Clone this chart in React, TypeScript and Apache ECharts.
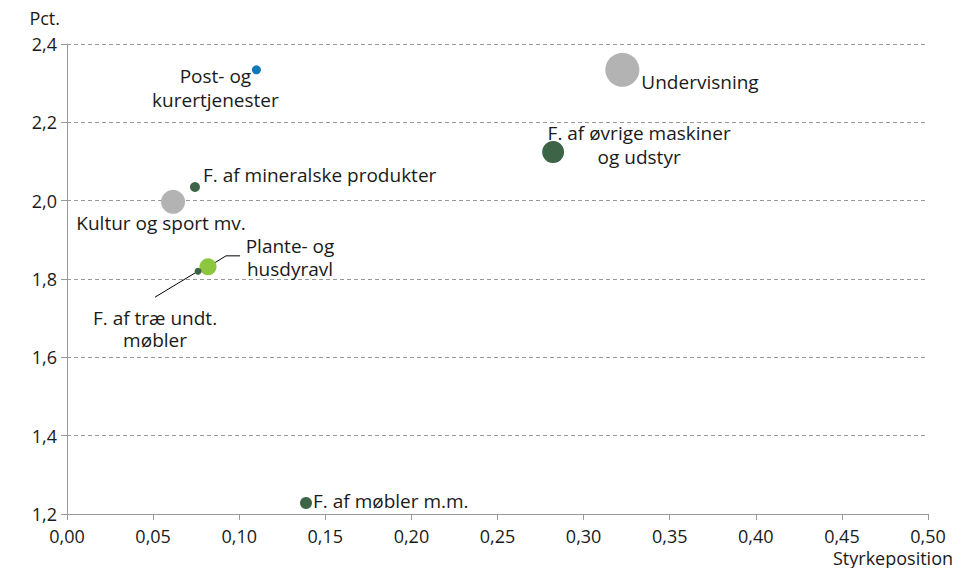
import React, { useEffect, useRef } from "react";
import * as echarts from "echarts";

const names = [
  "Post- og\nkurertjenester",
  "Undervisning",
  "F. af øvrige maskiner\nog udstyr",
  "F. af mineralske produkter",
  "Kultur og sport mv.",
  "Plante- og\nhusdyravl",
  "F. af træ undt.\nmøbler",
  "F. af møbler m.m.",
];
const xValues = [0.11, 0.3225, 0.2823, 0.0743, 0.0616, 0.0819, 0.0761, 0.1388];
const yValues = [2.334, 2.334, 2.124, 2.035, 1.997, 1.831, 1.82, 1.228];
const bubbleSizes = [9, 34, 22, 10, 24, 17, 7, 12];
const colors = ["#1279b8", "#b3b3b3", "#3d6447", "#3d6447", "#b3b3b3", "#8dc63f", "#3d6447", "#3d6447"];

const xTicks = { min: 0, max: 0.5, interval: 0.05 };
const yTicks = { min: 1.2, max: 2.4, interval: 0.2 };
const xAxisTitle = "Styrkeposition";
const yAxisTitle = "Pct.";

// label placement (pixels relative to the bubble centre)
const labelStyles = [
  { dx: -41, dy: 18, align: "center", lh: 24 },
  { dx: 19, dy: 12, align: "left", lh: 24 },
  { dx: 86, dy: -7, align: "center", lh: 24 },
  { dx: 8, dy: -12, align: "left", lh: 24 },
  { dx: -12, dy: 21, align: "center", lh: 24 },
  { dx: 82, dy: -9, align: "center", lh: 23 },
  { dx: -43, dy: 58, align: "center", lh: 22 },
  { dx: 7, dy: -2, align: "left", lh: 24 },
];

// leader lines: index of point + pixel offsets from its centre
const leaders = [
  { idx: 5, pts: [[0, 0], [18, -11], [32, -11]] },
  { idx: 6, pts: [[0, 0], [-43, 26]] },
];

const FONT = "'Open Sans', 'Noto Sans', sans-serif";
const TXT = "#1a1a1a";
const FS = 18;
const LFS = 19;

export default function App() {
  const ref = useRef<HTMLDivElement>(null);
  useEffect(() => {
    document.body.style.margin = "0";
    if (!ref.current) return;
    const chart = echarts.init(ref.current, null, { renderer: "svg" });
    const series = names.map((n, i) => ({
      type: "scatter",
      name: n,
      z: 3,
      symbolSize: bubbleSizes[i],
      itemStyle: { color: colors[i], opacity: 1 },
      data: [[xValues[i], yValues[i]]],
      label: {
        show: true,
        position: "inside",
        formatter: n,
        offset: [labelStyles[i].dx, labelStyles[i].dy],
        align: labelStyles[i].align,
        verticalAlign: "middle",
        lineHeight: labelStyles[i].lh,
        fontSize: LFS,
        fontFamily: FONT,
        color: TXT,
      },
      emphasis: { disabled: true },
    }));
    chart.setOption({
      animation: false,
      grid: { left: 67, right: 31, top: 44, bottom: 54, containLabel: false, outerBoundsMode: "none" },
      xAxis: {
        type: "value",
        ...xTicks,
        axisLine: { show: true, lineStyle: { color: "#999999", width: 1 } },
        axisTick: { show: true, length: 6, lineStyle: { color: "#999999" } },
        splitLine: { show: false },
        axisLabel: {
          margin: 13,
          fontSize: FS,
          fontFamily: FONT,
          color: TXT,
          formatter: (v: number) => v.toFixed(2).replace(".", ","),
        },
      },
      yAxis: {
        type: "value",
        ...yTicks,
        name: yAxisTitle,
        nameLocation: "end",
        nameGap: 26,
        nameTextStyle: {
          align: "right",
          verticalAlign: "middle",
          padding: [0, 7, 0, 0],
          fontSize: FS,
          fontFamily: FONT,
          color: TXT,
        },
        axisLine: { show: true, lineStyle: { color: "#999999", width: 1 } },
        axisTick: { show: true, length: 6, lineStyle: { color: "#999999" } },
        splitLine: { show: true, lineStyle: { color: "#999999", type: [4, 3] } },
        axisLabel: {
          margin: 10,
          fontSize: FS,
          fontFamily: FONT,
          color: TXT,
          formatter: (v: number) => v.toFixed(1).replace(".", ","),
        },
      },
      series,
    });
    const graphics: any[] = leaders.map((l) => {
      const c = chart.convertToPixel({ xAxisIndex: 0, yAxisIndex: 0 }, [xValues[l.idx], yValues[l.idx]]) as number[];
      return {
        type: "polyline",
        z: 1,
        silent: true,
        shape: { points: l.pts.map((p) => [c[0] + p[0], c[1] + p[1]]) },
        style: { stroke: "#000000", lineWidth: 1, fill: null },
      };
    });
    graphics.push({
      type: "text",
      right: 6,
      top: 549,
      silent: true,
      style: { text: xAxisTitle, fontSize: FS, lineHeight: 18, fontFamily: FONT, fill: TXT },
    });
    chart.setOption({ graphic: graphics });
    return () => chart.dispose();
  }, []);
  return <div ref={ref} style={{ width: 959, height: 568 }} />;
}
